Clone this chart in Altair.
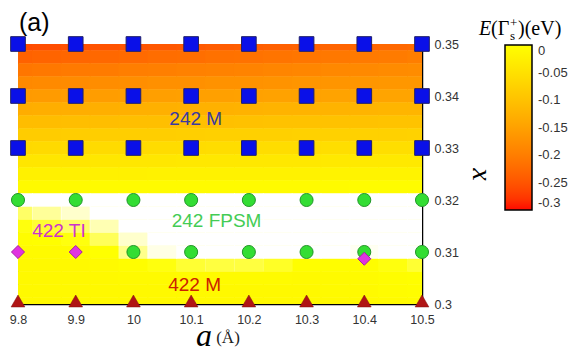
import altair as alt
import pandas as pd

# ---------------- data ----------------
a_cols = [9.80, 9.85, 9.90, 9.95, 10.00, 10.05, 10.10, 10.15, 10.20, 10.25, 10.30, 10.35, 10.40, 10.45, 10.50]
x_rows = [0.3500, 0.3475, 0.3450, 0.3425, 0.3400, 0.3375, 0.3350, 0.3325, 0.3300, 0.3275, 0.3250,
          0.3225, 0.3200, 0.3175, 0.3150, 0.3125, 0.3100, 0.3075, 0.3050, 0.3025, 0.3000]
# E(Gamma_s^+) in eV (positive = white region)
E_rows = [
    [-0.260, -0.258, -0.255, -0.252, -0.250, -0.247, -0.245, -0.242, -0.240, -0.237, -0.235, -0.232, -0.230, -0.228, -0.225],
    [-0.235, -0.233, -0.230, -0.228, -0.225, -0.222, -0.220, -0.217, -0.215, -0.212, -0.210, -0.207, -0.205, -0.203, -0.200],
    [-0.210, -0.208, -0.205, -0.203, -0.200, -0.198, -0.196, -0.194, -0.192, -0.190, -0.188, -0.186, -0.184, -0.182, -0.180],
    [-0.185, -0.183, -0.181, -0.179, -0.177, -0.175, -0.174, -0.172, -0.171, -0.170, -0.168, -0.167, -0.166, -0.165, -0.164],
    [-0.160, -0.158, -0.156, -0.155, -0.154, -0.153, -0.152, -0.151, -0.150, -0.149, -0.148, -0.147, -0.146, -0.145, -0.145],
    [-0.132, -0.131, -0.130, -0.129, -0.128, -0.127, -0.126, -0.125, -0.124, -0.123, -0.122, -0.122, -0.121, -0.120, -0.120],
    [-0.108, -0.107, -0.106, -0.105, -0.104, -0.104, -0.103, -0.102, -0.101, -0.100, -0.100, -0.099, -0.099, -0.098, -0.098],
    [-0.084, -0.083, -0.082, -0.081, -0.080, -0.080, -0.079, -0.078, -0.078, -0.077, -0.076, -0.076, -0.075, -0.075, -0.074],
    [-0.062, -0.061, -0.060, -0.060, -0.059, -0.058, -0.058, -0.057, -0.057, -0.056, -0.056, -0.055, -0.055, -0.054, -0.054],
    [-0.042, -0.041, -0.041, -0.040, -0.040, -0.040, -0.039, -0.039, -0.038, -0.038, -0.038, -0.037, -0.037, -0.036, -0.036],
    [-0.024, -0.024, -0.023, -0.023, -0.023, -0.022, -0.022, -0.022, -0.021, -0.021, -0.021, -0.020, -0.020, -0.020, -0.020],
    [-0.008, -0.008, -0.008, -0.007, -0.007, -0.007, -0.007, -0.006, -0.006, -0.006, -0.006, -0.006, -0.005, -0.005, -0.005],
    [0.020, 0.020, 0.020, 0.020, 0.020, 0.020, 0.020, 0.020, 0.020, 0.020, 0.020, 0.020, 0.020, 0.020, 0.020],
    [0.008, 0.012, 0.016, 0.020, 0.020, 0.020, 0.020, 0.020, 0.020, 0.020, 0.020, 0.020, 0.020, 0.020, 0.020],
    [0.001, 0.004, 0.008, 0.014, 0.020, 0.020, 0.020, 0.020, 0.020, 0.020, 0.020, 0.020, 0.020, 0.020, 0.020],
    [-0.004, -0.002, 0.001, 0.007, 0.016, 0.020, 0.020, 0.020, 0.020, 0.020, 0.020, 0.020, 0.020, 0.020, 0.020],
    [-0.008, -0.008, -0.006, 0.000, 0.011, 0.018, 0.020, 0.020, 0.020, 0.020, 0.020, 0.020, 0.019, 0.020, 0.020],
    [-0.010, -0.010, -0.010, -0.008, -0.003, 0.001, 0.004, 0.005, 0.005, 0.003, -0.001, -0.004, -0.003, 0.001, 0.004],
    [-0.010, -0.010, -0.010, -0.010, -0.009, -0.008, -0.006, -0.006, -0.006, -0.007, -0.008, -0.008, -0.007, -0.004, -0.002],
    [-0.010, -0.010, -0.010, -0.010, -0.010, -0.010, -0.010, -0.010, -0.010, -0.010, -0.010, -0.009, -0.008, -0.005, -0.004],
    [-0.010, -0.010, -0.010, -0.010, -0.010, -0.010, -0.010, -0.010, -0.010, -0.010, -0.010, -0.010, -0.010, -0.008, -0.007],
]

a_ticks = [9.8, 9.9, 10.0, 10.1, 10.2, 10.3, 10.4, 10.5]
x_ticks = [0.30, 0.31, 0.32, 0.33, 0.34, 0.35]
legend_values = [0, -0.05, -0.1, -0.15, -0.2, -0.25, -0.3]

# markers: phase points
square_a = a_ticks * 3
square_x = [0.33] * 8 + [0.34] * 8 + [0.35] * 8
circle_a = a_ticks + [10.0, 10.1, 10.2, 10.3, 10.4, 10.5]
circle_x = [0.32] * 8 + [0.31] * 6
diamond_a = [9.8, 9.9, 10.4]
diamond_x = [0.31, 0.31, 0.3087]
triangle_a = a_ticks
triangle_x = [0.30] * 8

# region labels
label_text = ["242 M", "242 FPSM", "422 TI", "422 M"]
label_a = [10.108, 10.144, 9.871, 10.106]
label_x = [0.3356, 0.3160, 0.3141, 0.3037]
label_color = ["#3a3aa0", "#44cc55", "#cc33cc", "#cc2200"]

# ---------------- tables ----------------
heat = pd.DataFrame(
    [{"a": a, "x": x, "E": E_rows[i][j]} for i, x in enumerate(x_rows) for j, a in enumerate(a_cols)]
)

def pts(av, xv):
    return pd.DataFrame({"a": av, "x": xv})

xscale = alt.Scale(domain=[9.8, 10.5], nice=False, zero=False)
yscale = alt.Scale(domain=[0.30, 0.35], nice=False, zero=False)

x_axis = alt.Axis(values=a_ticks, format=".1~f", title=None, tickSize=0, labelPadding=9,
                  labelFontSize=12.5, labelColor="#333", labelFont="Liberation Sans",
                  domainColor="black", domainWidth=1.5, grid=False, labelFlush=False)
y_axis = alt.Axis(orient="right", values=x_ticks, format=".2~f", title="x",
                  titleFont="Liberation Serif", titleFontStyle="italic", titleFontSize=28,
                  titleFontWeight="normal", titleColor="black", titleAngle=90, titlePadding=8,
                  tickSize=0, labelPadding=12, labelFontSize=12.5, labelColor="#333",
                  labelFont="Liberation Sans", domainColor="black", domainWidth=1.5,
                  grid=False, labelFlush=False)

base_heat = alt.Chart(heat).transform_calculate(
    a0="datum.a - 0.0258", a1="datum.a + 0.0258",
    x0="datum.x - 0.0013", x1="datum.x + 0.0013",
    Ec="min(datum.E, 0)", Ew="max(datum.E, 0)",
)

heat_layer = base_heat.mark_rect(clip=True).encode(
    x=alt.X("a0:Q", scale=xscale, axis=x_axis),
    x2="a1:Q",
    y=alt.Y("x0:Q", scale=yscale, axis=y_axis),
    y2="x1:Q",
    color=alt.Color(
        "Ec:Q",
        scale=alt.Scale(domain=[-0.3, 0], range=["#ff0a00", "#ffff00"]),
        legend=alt.Legend(
            orient="none", legendX=487, legendY=1, direction="vertical",
            gradientLength=165, gradientThickness=27,
            gradientStrokeColor="black", gradientStrokeWidth=1.5,
            values=legend_values,
            labelExpr="datum.value == 0 ? '0' : '-' + toString(abs(datum.value))",
            labelFont="Liberation Sans", labelFontSize=13, labelColor="#333",
            labelOffset=6, title=None,
        ),
    ),
)

white_layer = base_heat.mark_rect(clip=True, color="white").encode(
    x="a0:Q", x2="a1:Q", y="x0:Q", y2="x1:Q",
    opacity=alt.Opacity("Ew:Q", scale=alt.Scale(domain=[0, 0.02], range=[0, 1], clamp=True), legend=None),
)

def enc(ch):
    return ch.encode(x=alt.X("a:Q", scale=xscale), y=alt.Y("x:Q", scale=yscale))

squares = enc(alt.Chart(pts(square_a, square_x)).mark_point(
    shape="square", size=215, filled=True, fill="#0a10e8", stroke="#20206a", strokeWidth=1, opacity=1))
circles = enc(alt.Chart(pts(circle_a, circle_x)).mark_point(
    shape="circle", size=170, filled=True, fill="#33dd33", stroke="#23962a", strokeWidth=1, opacity=1))
diamonds = enc(alt.Chart(pts(diamond_a, diamond_x)).mark_point(
    shape="diamond", size=170, filled=True, fill="#e033e0", stroke="#a520a5", strokeWidth=1, opacity=1))
triangles = enc(alt.Chart(pts(triangle_a, triangle_x)).mark_point(
    shape="triangle-up", size=190, filled=True, fill="#b01515", stroke="#801010", strokeWidth=0.5,
    opacity=1, yOffset=-3))

labels = alt.Chart(pd.DataFrame({"t": label_text, "a": label_a, "x": label_x, "c": label_color})).mark_text(
    font="Liberation Sans", fontSize=19, align="center", baseline="middle"
).encode(
    x=alt.X("a:Q", scale=xscale), y=alt.Y("x:Q", scale=yscale),
    text="t:N", color=alt.Color("c:N", scale=None),
)

def note(txt, px, py, size, font="Liberation Serif", style="normal", align="left", color="black"):
    return alt.Chart(pd.DataFrame({"t": [txt]})).mark_text(
        font=font, fontSize=size, fontStyle=style, align=align, baseline="alphabetic", color=color
    ).encode(x=alt.value(px), y=alt.value(py), text="t:N")

panel_tag = note("(a)", 1, -13, 25, font="Liberation Sans")

# legend title  E(Γ_s^+)(eV)
lt_E = note("E", 461, -9, 20, style="italic")
lt_G = note("(Γ", 473, -9, 20)
lt_sup = note("+", 492, -17, 13)
lt_sub = note("s", 492, -4, 13)
lt_end = note(")(eV)", 500, -9, 20)

a_title = note("a", 186, 302, 32, style="italic", align="center")
unit_title = note("(Å)", 210, 299, 17, align="center", color="#222")

chart = alt.layer(
    heat_layer, white_layer, squares, circles, diamonds, triangles, labels,
    panel_tag, lt_E, lt_G, lt_sup, lt_sub, lt_end, a_title, unit_title,
).properties(
    width=404, height=260,
    padding={"top": 3, "left": 0, "right": 0, "bottom": 0},
).configure_view(stroke="#555", strokeWidth=1)

chart.save("out.html", embed_options={"renderer": "svg", "actions": False})
